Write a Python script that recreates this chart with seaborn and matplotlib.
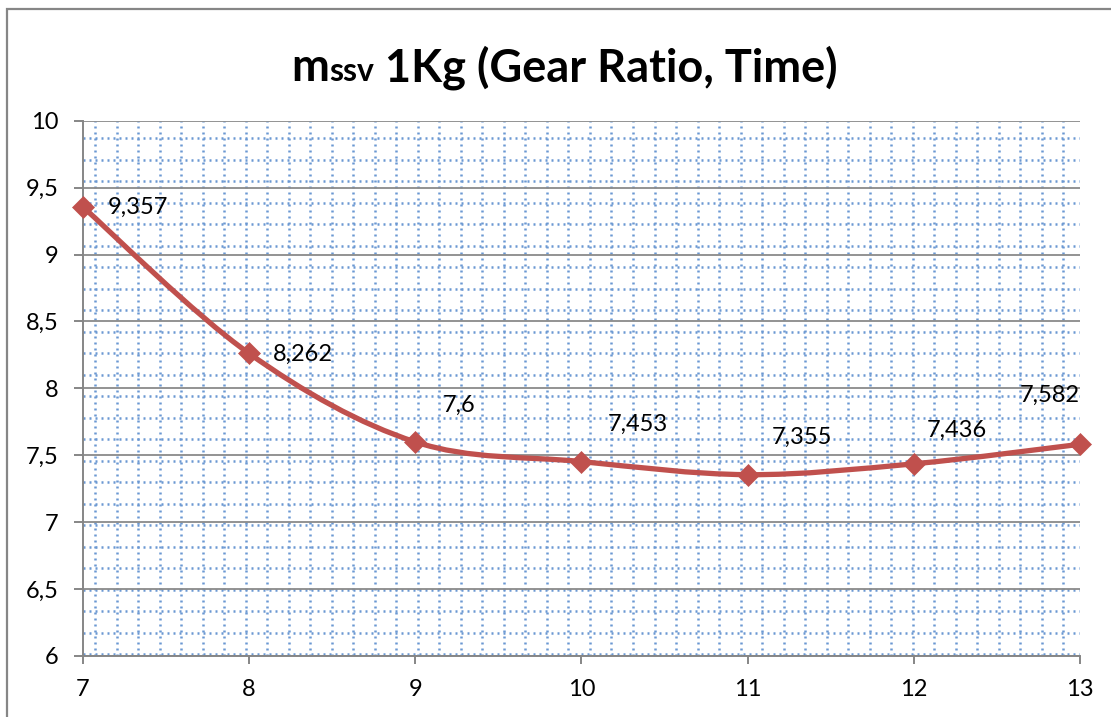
import numpy as np
import matplotlib
matplotlib.use("Agg")
import matplotlib.pyplot as plt
from matplotlib.path import Path
from matplotlib.patches import PathPatch, Rectangle
from matplotlib.lines import Line2D
from matplotlib.ticker import FuncFormatter, FixedLocator
import seaborn as sns

# Gear ratio vs. time for the 1 kg mass
gear_ratio = [7, 8, 9, 10, 11, 12, 13]
time_s = [9.357, 8.262, 7.6, 7.453, 7.355, 7.436, 7.582]
x_ticks = [7, 8, 9, 10, 11, 12, 13]
y_ticks = [6, 6.5, 7, 7.5, 8, 8.5, 9, 9.5, 10]

# where each value label sits relative to its marker (pixels)
label_offsets = [(25, -1), (24, -1), (28, 37), (26, 37), (24, 37), (13, 33), (-60, 49)]

sns.set_theme(style="white")
plt.rcParams["font.family"] = ["Lato", "DejaVu Sans"]

W, H = 1111, 717
RED = "#c0504d"
GRAY = "#868686"
FS = 17

fig = plt.figure(figsize=(W / 100, H / 100), dpi=100)
fig.patch.set_facecolor("white")

left_px, right_px, top_px, bottom_px = 82.7, 1080.0, 120.7, 656.0
ax = fig.add_axes([left_px / W, (H - bottom_px) / H,
                   (right_px - left_px) / W, (bottom_px - top_px) / H])
ax.set_facecolor("white")
ax.set_xlim(7, 13)
ax.set_ylim(6, 10)

# dotted blue pattern fill of the plot area
aw, ah = right_px - left_px, bottom_px - top_px
pitch = 21.5
dot_style = dict(color="#6b98d2", lw=1.8, linestyle=(0, (0.8, 1.6)),
                 transform=ax.transAxes, zorder=0.5, solid_capstyle="butt")
k = 0
while 17.6 + pitch * k < ah:
    yf = 1 - (17.6 + pitch * k) / ah
    ax.add_line(Line2D([0, 1], [yf, yf], **dot_style))
    k += 1
k = 0
while 12.3 + 21.52 * k < aw:
    xf = (12.3 + 21.52 * k) / aw
    ax.add_line(Line2D([xf, xf], [0, 1], **dot_style))
    k += 1

# major horizontal gridlines
ax.yaxis.set_major_locator(FixedLocator(y_ticks))
ax.xaxis.set_major_locator(FixedLocator(x_ticks))
ax.yaxis.grid(True, color="#8a8a8a", lw=1.3, zorder=1)
ax.xaxis.grid(False)
ax.set_axisbelow(True)

for side in ("top", "right"):
    ax.spines[side].set_visible(False)
for side in ("left", "bottom"):
    ax.spines[side].set_color(GRAY)
    ax.spines[side].set_linewidth(1.4)
    ax.spines[side].set_zorder(3)

comma = FuncFormatter(lambda v, _: f"{v:g}".replace(".", ","))
ax.yaxis.set_major_formatter(comma)
ax.xaxis.set_major_formatter(comma)
ax.tick_params(axis="y", direction="out", length=6.3, width=1.4, color=GRAY,
               labelsize=FS, pad=11, labelcolor="black", left=True)
ax.tick_params(axis="x", direction="out", length=5.8, width=1.4, color=GRAY,
               labelsize=FS, pad=11, labelcolor="black", bottom=True)

# smoothed series line (Catmull-Rom Bezier through the points)
pts = np.column_stack([gear_ratio, time_s]).astype(float)
ext = np.vstack([pts[0], pts, pts[-1]])
verts, codes = [pts[0]], [Path.MOVETO]
for i in range(len(pts) - 1):
    p0, p1, p2, p3 = ext[i], ext[i + 1], ext[i + 2], ext[i + 3]
    verts += [p1 + (p2 - p0) / 6, p2 - (p3 - p1) / 6, p2]
    codes += [Path.CURVE4] * 3
ax.add_patch(PathPatch(Path(verts, codes), facecolor="none", edgecolor=RED,
                       lw=3.8, zorder=4, capstyle="round", joinstyle="round"))

sns.scatterplot(x=gear_ratio, y=time_s, marker="D", s=125, color=RED,
                edgecolor=RED, linewidth=0.5, zorder=5, clip_on=False, ax=ax,
                legend=False)

for xv, yv, (dx, dy) in zip(gear_ratio, time_s, label_offsets):
    ax.annotate(f"{yv:g}".replace(".", ","), (xv, yv), xytext=(dx, dy),
                textcoords="offset pixels", ha="left", va="center",
                fontsize=FS, color="black", zorder=6, annotation_clip=False)

ax.set_xlabel("")
ax.set_ylabel("")

# chart border
fig.patches.append(Rectangle((7 / W, -0.1), 1.2, 1 - 9 / H + 0.1,
                             transform=fig.transFigure, fill=False,
                             edgecolor=GRAY, lw=1.6))

# title with subscript
fig.canvas.draw()
renderer = fig.canvas.get_renderer()
parts = [("m", 32.5), ("ssv", 23), (" 1Kg (Gear Ratio, Time)", 32.5)]
baseline = 1 - 81 / H
texts = [fig.text(0, baseline, s, fontsize=sz, fontweight="bold", va="baseline",
                  ha="left", color="black") for s, sz in parts]
widths = [t.get_window_extent(renderer).width for t in texts]
x = 564 - sum(widths) / 2
for t, w in zip(texts, widths):
    t.set_x(x / W)
    x += w

fig.savefig("out.png", dpi=100)
